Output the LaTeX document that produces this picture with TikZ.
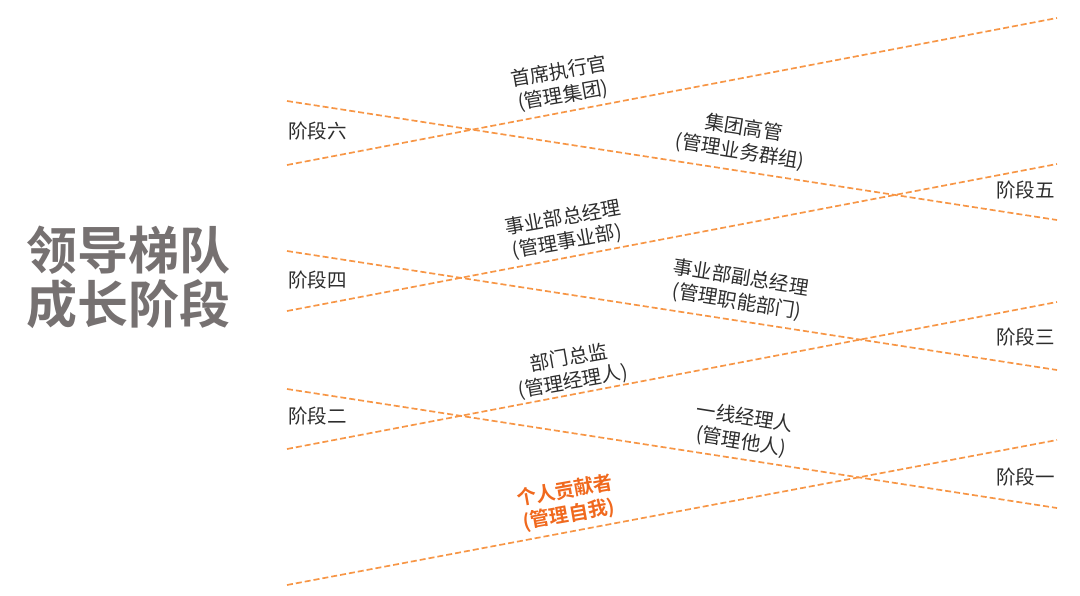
\documentclass[tikz,border=0pt]{standalone}
\usepackage{fontspec}
\setmainfont{Noto Sans CJK SC}[BoldFont={Noto Sans CJK SC Bold}]
\usepackage{tikz}
\usetikzlibrary{positioning}
\definecolor{ladderorange}{RGB}{247,150,70}
\definecolor{roleorange}{RGB}{240,105,30}
\definecolor{titlegray}{RGB}{118,113,113}
\definecolor{labelgray}{RGB}{45,45,45}
\tikzset{
  ladder/.style={draw=ladderorange, line width=1.7pt, dash pattern=on 6pt off 3pt},
  stagelbl/.style={font=\fontsize{19.5}{21}\selectfont, text=labelgray, inner sep=0pt},
  rolelbl/.style={font=\fontsize{19.5}{24}\selectfont, text=labelgray, align=center, inner sep=0pt},
  uprole/.style={rolelbl, rotate=10},
  downrole/.style={rolelbl, rotate=-9},
  title/.style={font=\fontsize{51}{54}\selectfont\bfseries, text=titlegray, align=center, inner sep=0pt},
}

\begin{document}
\begin{tikzpicture}[x=1pt, y=-1pt]
  \useasboundingbox (0,0) rectangle (1080,595);

  % Title
  \node[title] (title) at (129,277) {领导梯队\\成长阶段};

  % Ladder end points
  \coordinate (u1a) at (287,585);  \coordinate (u1b) at (1057,440);
  \coordinate (d1a) at (287,389);  \coordinate (d1b) at (1057,508);
  \coordinate (u2a) at (287,449);  \coordinate (u2b) at (1057,302);
  \coordinate (d2a) at (287,251);  \coordinate (d2b) at (1057,370);
  \coordinate (u3a) at (287,311);  \coordinate (u3b) at (1057,164);
  \coordinate (d3a) at (287,101);  \coordinate (d3b) at (1057,220);
  \coordinate (u4a) at (287,165);  \coordinate (u4b) at (1057,18);

  % Ladder lines
  \draw[ladder] (u1a) -- (u1b);
  \draw[ladder] (d1a) -- (d1b);
  \draw[ladder] (u2a) -- (u2b);
  \draw[ladder] (d2a) -- (d2b);
  \draw[ladder] (u3a) -- (u3b);
  \draw[ladder] (d3a) -- (d3b);
  \draw[ladder] (u4a) -- (u4b);

  % Stages
  \node[stagelbl, anchor=west] (st6) at (288,131) {阶段六};
  \node[stagelbl, anchor=west] (st4) at (288,280) {阶段四};
  \node[stagelbl, anchor=west] (st2) at (288,416) {阶段二};
  \node[stagelbl, anchor=east] (st5) at (1055,190) {阶段五};
  \node[stagelbl, anchor=east] (st3) at (1055,337) {阶段三};
  \node[stagelbl, anchor=east] (st1) at (1055,477) {阶段一};

  % Roles
  \node[uprole]   (ceo)   at (561,84)  {首席执行官\\(管理集团)};
  \node[downrole] (grp)   at (742,140) {集团高管\\(管理业务群组)};
  \node[uprole]   (bugm)  at (565,230) {事业部总经理\\(管理事业部)};
  \node[downrole] (vgm)   at (739,290) {事业部副总经理\\(管理职能部门)};
  \node[uprole]   (dir)   at (571,370) {部门总监\\(管理经理人)};
  \node[downrole] (fmgr)  at (743,430) {一线经理人\\(管理他人)};
  \node[uprole, text=roleorange, font=\fontsize{19.5}{24}\selectfont\bfseries]
                  (indiv) at (567,503) {个人贡献者\\(管理自我)};

\end{tikzpicture}
\end{document}
